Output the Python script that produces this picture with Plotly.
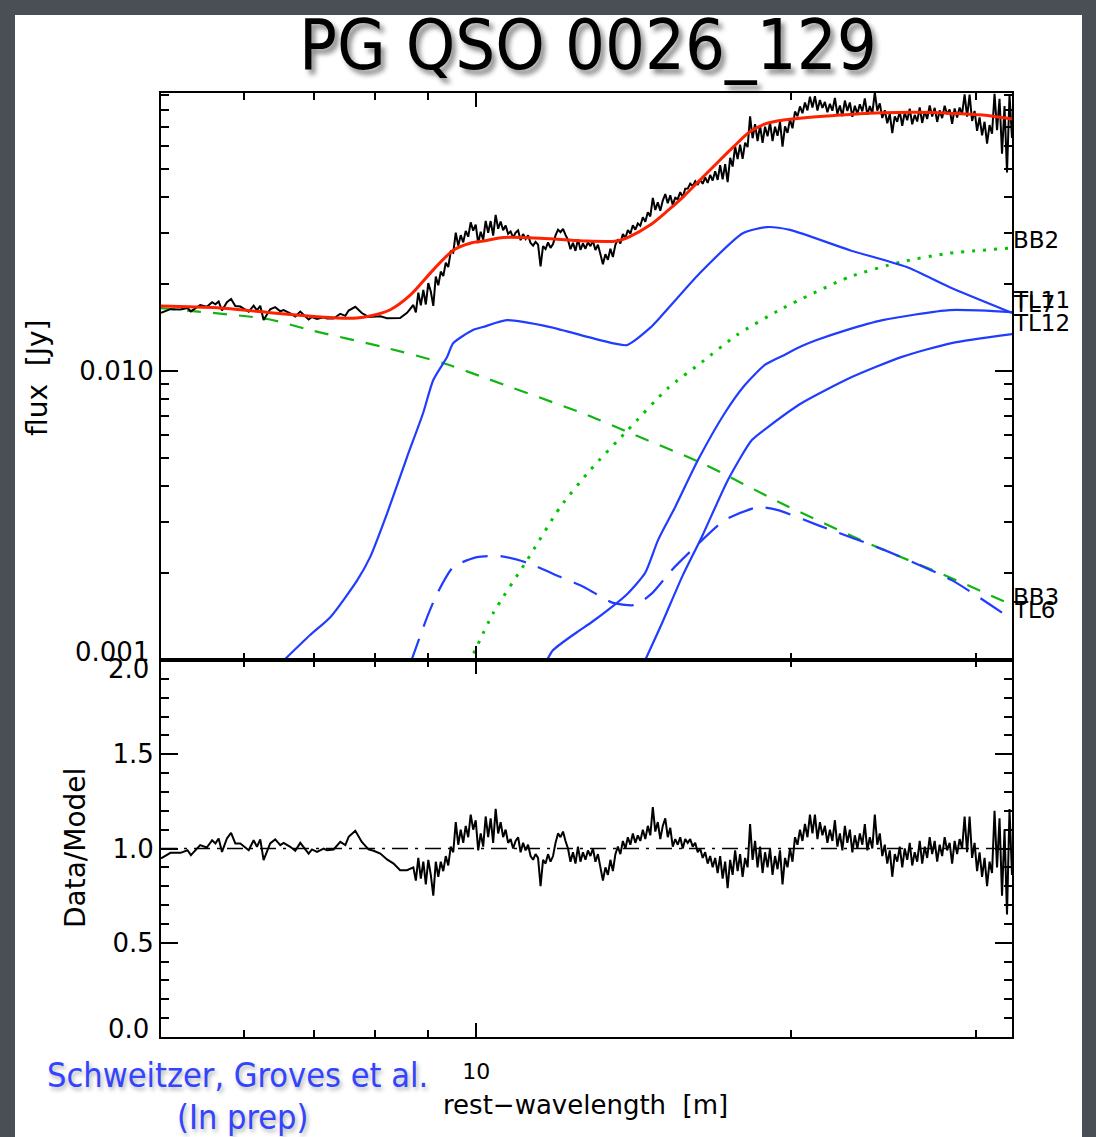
import numpy as np
import plotly.graph_objects as go

# ---------------- data ----------------
# best-fit model (red)
MODEL_WAVE = [5.0, 5.66, 6.32, 7.05, 7.37, 7.69, 7.92, 8.28, 8.65, 9.10, 9.51, 9.87, 10.16, 10.62,
              11.34, 11.77, 12.66, 13.62, 14.02, 14.66, 15.20, 15.77, 16.36, 16.97, 17.61, 18.26,
              18.94, 19.64, 21.14, 22.75, 24.46, 26.33, 28.34, 30.49, 32.5]
MODEL_FLUX = [0.0168, 0.01656, 0.01596, 0.01541, 0.01525, 0.01525, 0.0155, 0.0163, 0.0183, 0.0224,
              0.0262, 0.0277, 0.0282, 0.0290, 0.0289, 0.0287, 0.0282, 0.0282, 0.0292, 0.0320,
              0.0356, 0.0401, 0.0458, 0.0523, 0.0597, 0.0673, 0.0720, 0.0739, 0.0759, 0.0773,
              0.0783, 0.0786, 0.0781, 0.0769, 0.0745]

# black body components (green)
BB3_WAVE = [5.0, 6.32, 6.94, 8.15, 9.30, 10.15, 12.76, 13.96, 16.43, 19.72, 23.66, 28.46, 32.5]
BB3_FLUX = [0.0165, 0.01514, 0.01387, 0.01211, 0.01066, 0.00953, 0.00705, 0.00615, 0.0048,
            0.00344, 0.00254, 0.00192, 0.00155]
BB2_WAVE = [9.84, 10.38, 11.19, 12.03, 12.85, 13.96, 15.25, 16.43, 17.74, 19.63, 22.75, 25.4, 28.34, 32.5]
BB2_FLUX = [0.00097, 0.00145, 0.00222, 0.00338, 0.00454, 0.00625, 0.00873, 0.01074, 0.01332,
            0.0165, 0.0212, 0.0238, 0.0256, 0.02665]

# template components (blue)
TL11_WAVE = [6.50, 6.94, 7.26, 7.70, 7.92, 8.23, 8.59, 8.90, 9.10, 9.38, 9.51, 9.93, 10.15, 10.70,
             11.77, 13.13, 13.93, 14.66, 15.0, 16.36, 17.98, 18.95, 19.94, 22.75, 25.79, 28.34, 32.5]
TL11_FLUX = [0.00097, 0.00122, 0.00141, 0.00189, 0.00227, 0.00325, 0.00504, 0.00716, 0.00931,
             0.01118, 0.0125, 0.01387, 0.0142, 0.0150, 0.0142, 0.0128, 0.0123, 0.0141, 0.01538,
             0.02184, 0.0300, 0.0315, 0.0308, 0.0262, 0.0229, 0.0195, 0.0159]
TL7_WAVE = [11.64, 11.84, 12.49, 12.85, 13.49, 13.96, 14.50, 14.92, 15.49, 16.29, 17.28, 18.06,
            18.87, 19.63, 20.47, 21.15, 22.5, 24.45, 28.34, 32.5]
TL7_FLUX = [0.00097, 0.00108, 0.00125, 0.00134, 0.00153, 0.0017, 0.0020, 0.0026, 0.00338, 0.00492,
            0.00716, 0.00895, 0.0105, 0.0113, 0.0122, 0.0128, 0.0138, 0.0150, 0.01626, 0.0160]
TL12_WAVE = [14.45, 15.05, 15.73, 16.43, 17.40, 18.34, 19.0, 20.47, 22.85, 25.51, 28.46, 32.5]
TL12_FLUX = [0.00097, 0.00134, 0.00194, 0.00267, 0.0042, 0.00577, 0.0064, 0.00775, 0.00953,
             0.0112, 0.0125, 0.01343]
TL6_WAVE = [8.65, 8.98, 9.18, 9.51, 10.02, 10.54, 11.19, 12.03, 12.71, 13.49, 14.18, 14.72, 15.38,
            16.18, 17.28, 18.58, 19.42, 21.2, 24.56, 28.46, 32.33]
TL6_FLUX = [0.00097, 0.00141, 0.0017, 0.0021, 0.00227, 0.00229, 0.00217, 0.00194, 0.00178, 0.00158,
            0.00155, 0.0017, 0.00205, 0.00246, 0.00305, 0.00338, 0.0033, 0.00293, 0.0024, 0.00189,
            0.0014]

# Data/Model ratio, low-resolution part (explicit wavelengths)
LOWRES_WAVE = [5.00, 5.105, 5.22, 5.30, 5.34, 5.415, 5.45, 5.53, 5.595, 5.636, 5.676, 5.718, 5.78,
               5.833, 5.888, 5.953, 6.064, 6.13, 6.175, 6.22, 6.266, 6.357, 6.428, 6.50, 6.548,
               6.644, 6.718, 6.792, 6.866, 6.918, 6.969, 7.047, 7.15, 7.202, 7.309, 7.417, 7.50,
               7.555, 7.666, 7.777, 7.893, 7.98, 8.10, 8.22, 8.34, 8.46, 8.59]
LOWRES_RATIO = [0.947, 0.977, 0.977, 0.991, 0.965, 1.0, 1.018, 1.005, 1.044, 1.027, 1.053, 0.982,
                1.053, 1.083, 1.027, 1.027, 0.991, 1.044, 1.009, 1.048, 0.938, 1.027, 1.048, 1.018,
                1.030, 1.009, 0.988, 1.030, 0.995, 0.973, 0.995, 0.982, 1.0, 0.991, 0.995, 1.035,
                1.018, 1.062, 1.094, 1.035, 0.995, 0.988, 0.973, 0.942, 0.920, 0.885, 0.885]

# Data/Model ratio, high-resolution part (evenly sampled in log wavelength, 8.71 - 32.5 um)
HIRES_START, HIRES_END = 8.71, 32.5
HIRES_RATIO = [
    0.90, 0.83, 0.95, 0.84, 0.93, 0.81, 0.94, 0.86, 0.75, 0.93,
    0.85, 0.93, 0.88, 0.96, 0.91, 1.01, 0.98, 1.14, 1.02, 1.10,
    1.03, 1.12, 1.06, 1.18, 1.10, 1.15, 0.99, 1.08, 1.01, 1.17,
    1.06, 1.16, 1.03, 1.21, 1.08, 1.14, 1.06, 1.10, 1.03, 1.05,
    1.00, 1.04, 1.06, 0.98, 1.03, 0.99, 1.02, 0.96, 0.94, 0.97,
    0.95, 0.80, 0.94, 0.92, 0.97, 0.93, 0.96, 1.03, 1.08, 1.06,
    1.09, 1.04, 1.00, 0.93, 0.98, 0.92, 1.01, 0.93, 0.98, 0.94,
    0.99, 0.96, 1.00, 0.93, 0.97, 0.90, 0.83, 0.90, 0.86, 0.94,
    0.88, 0.97, 1.01, 0.97, 1.04, 1.00, 1.06, 1.02, 1.08, 1.03,
    1.07, 1.04, 1.10, 1.05, 1.12, 1.07, 1.22, 1.09, 1.14, 1.05,
    1.12, 1.16, 1.06, 1.11, 1.01, 1.05, 1.02, 1.06, 1.00, 1.05,
    1.03, 1.05, 1.01, 1.03, 0.98, 1.00, 0.95, 0.98, 0.92, 0.96,
    0.90, 0.95, 0.87, 0.96, 0.84, 0.93, 0.79, 0.94, 0.86, 0.99,
    0.88, 0.97, 0.85, 0.95, 0.90, 1.13, 0.94, 1.04, 0.90, 1.01,
    0.87, 0.98, 0.90, 1.00, 0.86, 0.96, 0.89, 0.99, 0.81, 0.95,
    0.90, 1.00, 0.93, 1.06, 1.02, 1.10, 1.04, 1.13, 1.06, 1.18,
    1.08, 1.18, 1.05, 1.14, 1.07, 1.12, 1.03, 1.10, 1.04, 1.15,
    1.01, 1.08, 0.99, 1.12, 1.03, 1.10, 0.98, 1.07, 1.00, 1.08,
    1.02, 1.13, 0.99, 1.06, 1.00, 1.18, 1.02, 1.08, 0.96, 1.02,
    0.92, 0.99, 0.85, 0.97, 0.93, 1.01, 0.90, 1.00, 0.94, 1.03,
    0.91, 0.98, 0.93, 1.04, 0.92, 1.01, 0.95, 1.06, 0.97, 1.04,
    0.93, 1.02, 0.96, 1.06, 0.99, 1.03, 0.92, 1.04, 0.97, 1.05,
    1.00, 1.17, 0.98, 1.17, 0.95, 1.03, 0.88, 0.98, 0.85, 0.95,
    0.80, 0.93, 0.87, 1.20, 0.90, 1.16, 0.75, 1.10, 0.65, 1.21,
    0.86]

X_RANGE = [5.0, 32.5]
Y_RANGE = [0.001, 0.0917]
X_TICKS = [10]
X_MINOR = [6, 7, 8, 9, 20, 30]
Y_MINOR = [0.002, 0.003, 0.004, 0.005, 0.006, 0.007, 0.008, 0.009,
           0.02, 0.03, 0.04, 0.05, 0.06, 0.07, 0.08, 0.09]
R_TICKS = [0.5, 1.0, 1.5]
R_MINOR = [0.1, 0.2, 0.3, 0.4, 0.6, 0.7, 0.8, 0.9, 1.1, 1.2, 1.3, 1.4, 1.6, 1.7, 1.8, 1.9]

# ---------------- assemble the spectrum ----------------
hires_wave = np.geomspace(HIRES_START, HIRES_END, len(HIRES_RATIO))
wave = np.concatenate([np.array(LOWRES_WAVE), hires_wave])
ratio = np.concatenate([np.array(LOWRES_RATIO), np.array(HIRES_RATIO)])
model_at_wave = np.exp(np.interp(np.log(wave), np.log(MODEL_WAVE), np.log(MODEL_FLUX)))
flux = model_at_wave * ratio   # observed spectrum = model x (Data/Model)

BLUE = "#1f3cff"
GREEN = "#11b511"
FONT = "DejaVu Sans"
TFONT = "DejaVu Sans Condensed"

fig = go.Figure()

def comp(x, y, color, dash, width=2.2):
    fig.add_trace(go.Scatter(x=x, y=y, mode="lines", xaxis="x", yaxis="y",
                             line=dict(color=color, width=width, dash=dash, shape="spline", smoothing=0.6),
                             hoverinfo="skip"))

comp(BB3_WAVE, BB3_FLUX, GREEN, "14px,12px")
comp(BB2_WAVE, BB2_FLUX, "#00c400", "3px,8px", 3)
comp(TL11_WAVE, TL11_FLUX, BLUE, "solid")
comp(TL7_WAVE, TL7_FLUX, BLUE, "solid")
comp(TL12_WAVE, TL12_FLUX, BLUE, "solid")
comp(TL6_WAVE, TL6_FLUX, BLUE, "26px,13px")

fig.add_trace(go.Scatter(x=wave, y=flux, mode="lines", xaxis="x", yaxis="y",
                         line=dict(color="black", width=2)))
fig.add_trace(go.Scatter(x=MODEL_WAVE, y=MODEL_FLUX, mode="lines", xaxis="x", yaxis="y",
                         line=dict(color="#ff2200", width=3, shape="spline", smoothing=0.8)))

# bottom panel
fig.add_trace(go.Scatter(x=X_RANGE, y=[1.0, 1.0], mode="lines", xaxis="x2", yaxis="y2",
                         line=dict(color="black", width=1.6, dash="16px,7px,3px,7px")))
fig.add_trace(go.Scatter(x=wave, y=ratio, mode="lines", xaxis="x2", yaxis="y2",
                         line=dict(color="black", width=2)))

L, R, T, B = 161, 84, 93, 100
W, H = 1096, 1137
PW, PH = W - L - R, H - T - B
split = (1037 - 660) / PH

def px(xp):
    return (xp - L) / PW

def py(yp):
    return (H - B - yp) / PH

axis_common = dict(showline=True, linecolor="black", linewidth=2, mirror="allticks",
                   ticks="inside", tickcolor="black", tickwidth=2, showgrid=False, zeroline=False)

xcommon = dict(type="log", range=[np.log10(X_RANGE[0]), np.log10(X_RANGE[1])],
               tickvals=X_TICKS, ticktext=["10"], ticklen=14,
               minor=dict(tickvals=X_MINOR, ticks="inside", ticklen=7, tickwidth=2,
                          tickcolor="black", showgrid=False), **axis_common)

fig.update_layout(
    width=W, height=H,
    margin=dict(l=L, r=R, t=T, b=B),
    paper_bgcolor="#4a4f55",
    plot_bgcolor="white",
    showlegend=False,
    xaxis=dict(anchor="y", domain=[0, 1], showticklabels=False, **xcommon),
    xaxis2=dict(anchor="y2", domain=[0, 1], matches="x", showticklabels=True,
                tickfont=dict(family=FONT, size=22, color="black"), ticklabelstandoff=14, **xcommon),
    yaxis=dict(anchor="x", domain=[split, 1], type="log",
               range=[np.log10(Y_RANGE[0]), np.log10(Y_RANGE[1])],
               tickvals=[0.01], ticktext=["0.010"], ticklen=17,
               tickfont=dict(family=FONT, size=26, color="black"),
               minor=dict(tickvals=Y_MINOR, ticks="inside", ticklen=8, tickwidth=2,
                          tickcolor="black", showgrid=False), **axis_common),
    yaxis2=dict(anchor="x2", domain=[0, split], range=[0, 2],
                tickvals=R_TICKS, ticktext=["0.5", "1.0", "1.5"], ticklen=17,
                tickfont=dict(family=FONT, size=26, color="black"),
                minor=dict(tickvals=R_MINOR, ticks="inside", ticklen=8, tickwidth=2,
                           tickcolor="black", showgrid=False), **axis_common),
    shapes=[dict(type="rect", xref="paper", yref="paper", layer="below",
                 x0=px(15), x1=px(1082), y0=py(1140), y1=py(15),
                 fillcolor="white", line=dict(width=0))],
)

ann = []

def note(xp, yp, text, size, color="black", family=FONT, angle=0, xanchor="center", shadow=None):
    f = dict(family=family, size=size, color=color)
    if shadow:
        f["shadow"] = shadow
    ann.append(dict(x=px(xp), y=py(yp), text=text, showarrow=False, textangle=angle,
                    xref="paper", yref="paper", xanchor=xanchor, yanchor="middle", font=f))

# title (with soft drop shadow)
note(588, 45, "PG QSO 0026_129", 70, "black", TFONT, shadow="4px 5px 5px rgba(0,0,0,0.45)")
# credits
note(237, 1075, "Schweitzer, Groves et al.", 34, "#3344ff", TFONT, shadow="2px 3px 4px rgba(0,0,0,0.3)")
note(242, 1117, "(In prep)", 34, "#3344ff", TFONT, shadow="2px 3px 4px rgba(0,0,0,0.3)")
# axis titles
note(37, 378, "flux  [Jy]", 28, angle=-90)
note(75, 848, "Data/Model", 28, angle=-90)
note(585, 1105, "rest−wavelength  [m]", 26)
# edge tick labels (shifted inward like the original)
for txt, yy in [("0.001", 652), ("2.0", 669), ("0.0", 1029)]:
    note(151, yy, txt, 26, xanchor="right")
# component labels at right edge
for txt, fv in [("BB2", 0.0284), ("TL11", 0.0176), ("TL7", 0.0171), ("TL12", 0.0147),
                ("BB3", 0.00165), ("TL6", 0.00149)]:
    ann.append(dict(x=1.0, y=np.log10(fv), text=txt, showarrow=False, xanchor="left",
                    yanchor="middle", xref="paper", yref="y", xshift=-1,
                    font=dict(family=FONT, size=23, color="black")))
fig.update_layout(annotations=ann)

fig.write_html("out.html")
